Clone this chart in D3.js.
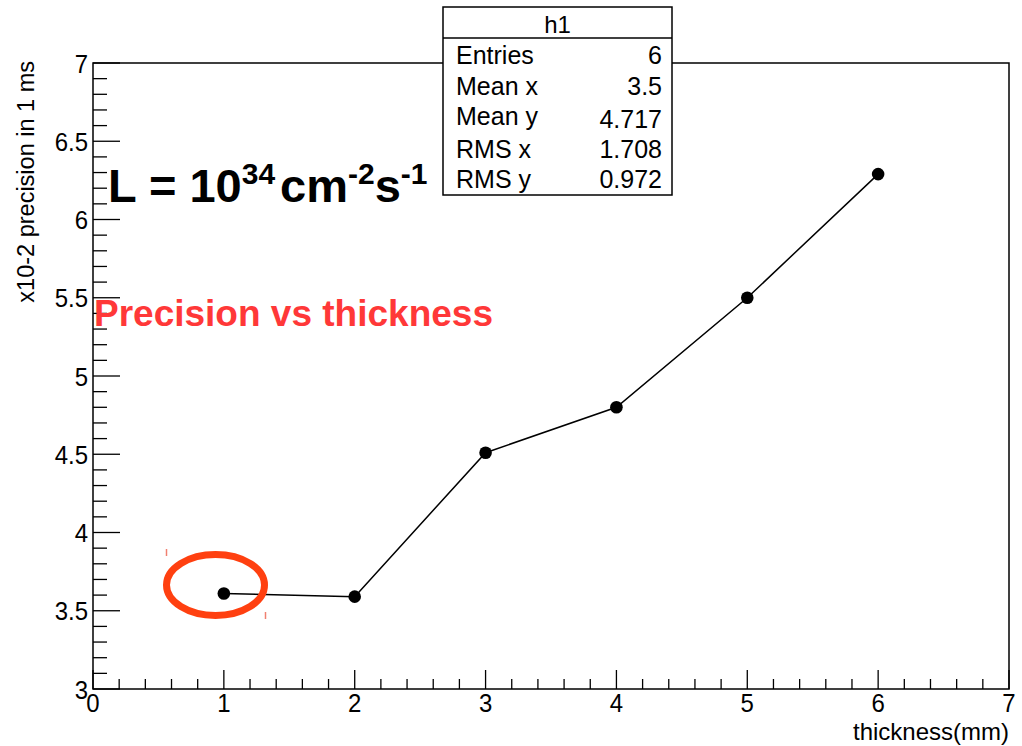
<!DOCTYPE html>
<html>
<head>
<meta charset="utf-8">
<script src="https://cdn.jsdelivr.net/npm/d3@7"></script>
<style>
  html, body { margin: 0; padding: 0; background: #fff; }
  svg { display: block; font-family: "Liberation Sans", Arial, sans-serif; }
</style>
</head>
<body>
<svg id="chart" width="1022" height="746"></svg>
<script>
// thickness (mm) vs precision (x10-2 in 1 ms)
const thickness = [1, 2, 3, 4, 5, 6];
const precision = [3.61, 3.59, 4.51, 4.80, 5.50, 6.29];
const xTicks = [0, 1, 2, 3, 4, 5, 6, 7];
const yTicks = [3, 3.5, 4, 4.5, 5, 5.5, 6, 6.5, 7];
const statsLabels = ['Entries', 'Mean x', 'Mean y', 'RMS x', 'RMS y'];
const statsValues = ['6', '3.5', '4.717', '1.708', '0.972'];

const svg = d3.select('#chart');
const frame = { left: 93, right: 1009, top: 63, bottom: 689 };

const x = d3.scaleLinear().domain([0, 7]).range([frame.left, frame.right]);
const y = d3.scaleLinear().domain([3, 7]).range([frame.bottom, frame.top]);

// frame
svg.append('rect')
  .attr('x', frame.left).attr('y', frame.top)
  .attr('width', frame.right - frame.left).attr('height', frame.bottom - frame.top)
  .attr('fill', 'none').attr('stroke', '#000').attr('stroke-width', 1.5);

// ticks (major + minor)
const xMinor = d3.range(0, 7.001, 0.2);
svg.append('g').selectAll('line').data(xMinor).enter().append('line')
  .attr('x1', d => x(d)).attr('x2', d => x(d))
  .attr('y1', frame.bottom).attr('y2', d => Math.abs(d - Math.round(d)) < 1e-6 ? frame.bottom - 19 : frame.bottom - 10)
  .attr('stroke', '#000').attr('stroke-width', 1.3);

const yMinor = d3.range(3, 7.001, 0.1);
svg.append('g').selectAll('line').data(yMinor).enter().append('line')
  .attr('y1', d => y(d)).attr('y2', d => y(d))
  .attr('x1', frame.left).attr('x2', d => Math.abs(d * 2 - Math.round(d * 2)) < 1e-6 ? frame.left + 27 : frame.left + 14)
  .attr('stroke', '#000').attr('stroke-width', 1.3);

// tick labels (slightly tall glyphs like the original)
svg.append('g').selectAll('text').data(xTicks).enter().append('text')
  .attr('transform', d => `translate(${x(d)},712) scale(1,1.1)`)
  .attr('text-anchor', 'middle').attr('font-size', 24).text(d => d);

svg.append('g').selectAll('text').data(yTicks).enter().append('text')
  .attr('transform', d => `translate(88,${y(d) + 9.5}) scale(1,1.1)`)
  .attr('text-anchor', 'end').attr('font-size', 24).text(d => d);

// axis titles
svg.append('text')
  .attr('x', frame.right).attr('y', 740)
  .attr('text-anchor', 'end').attr('font-size', 24).text('thickness(mm)');

svg.append('text')
  .attr('transform', `translate(34,${frame.top - 2}) rotate(-90)`)
  .attr('text-anchor', 'end').attr('font-size', 23.5).text('x10-2 precision in 1 ms');

// data line and markers
const line = d3.line().x((d, i) => x(thickness[i])).y(d => y(d));
svg.append('path').datum(precision)
  .attr('d', line).attr('fill', 'none').attr('stroke', '#000').attr('stroke-width', 1.5);

svg.append('g').selectAll('circle').data(precision).enter().append('circle')
  .attr('cx', (d, i) => x(thickness[i])).attr('cy', d => y(d))
  .attr('r', 6.3).attr('fill', '#000');

// annotation: red ellipse around first point
svg.append('ellipse')
  .attr('cx', 215.5).attr('cy', 585).attr('rx', 49).attr('ry', 30.5)
  .attr('fill', 'none').attr('stroke', '#ff4010').attr('stroke-width', 7);
svg.append('line').attr('x1', 166.5).attr('x2', 166.5).attr('y1', 549).attr('y2', 556)
  .attr('stroke', '#f08070').attr('stroke-width', 1.5);
svg.append('line').attr('x1', 265.5).attr('x2', 265.5).attr('y1', 612).attr('y2', 619)
  .attr('stroke', '#f08070').attr('stroke-width', 1.5);

// luminosity text
const lum = svg.append('text')
  .attr('x', 108).attr('y', 202)
  .attr('font-size', 47).attr('font-weight', 'bold').attr('fill', '#000');
lum.append('tspan').text('L = 10');
lum.append('tspan').attr('font-size', 30).attr('dy', -18).text('34');
lum.append('tspan').attr('dy', 18).attr('dx', 5).text('cm');
lum.append('tspan').attr('font-size', 30).attr('dy', -18).text('-2');
lum.append('tspan').attr('dy', 18).text('s');
lum.append('tspan').attr('font-size', 30).attr('dy', -18).text('-1');

// title text
svg.append('text')
  .attr('x', 94).attr('y', 326)
  .attr('font-size', 37).attr('font-weight', 'bold').attr('fill', '#ff3838')
  .text('Precision vs thickness');

// stats box
const box = { x: 443, y: 7, w: 229, h: 188, head: 31 };
svg.append('rect')
  .attr('x', box.x).attr('y', box.y).attr('width', box.w).attr('height', box.h)
  .attr('fill', '#fff').attr('stroke', '#000').attr('stroke-width', 1.5);
svg.append('line')
  .attr('x1', box.x).attr('x2', box.x + box.w)
  .attr('y1', box.y + box.head).attr('y2', box.y + box.head)
  .attr('stroke', '#000').attr('stroke-width', 1.5);
svg.append('text')
  .attr('x', box.x + box.w / 2).attr('y', 33)
  .attr('text-anchor', 'middle').attr('font-size', 24).text('h1');

const rowY = [64, 95, 125, 158, 188];
const valY = [64, 95, 128, 158, 188];
svg.append('g').selectAll('text').data(statsLabels).enter().append('text')
  .attr('x', 456).attr('y', (d, i) => rowY[i])
  .attr('font-size', 25).text(d => d);
svg.append('g').selectAll('text').data(statsValues).enter().append('text')
  .attr('x', 662).attr('y', (d, i) => valY[i])
  .attr('text-anchor', 'end').attr('font-size', 25).text(d => d);
</script>
</body>
</html>
